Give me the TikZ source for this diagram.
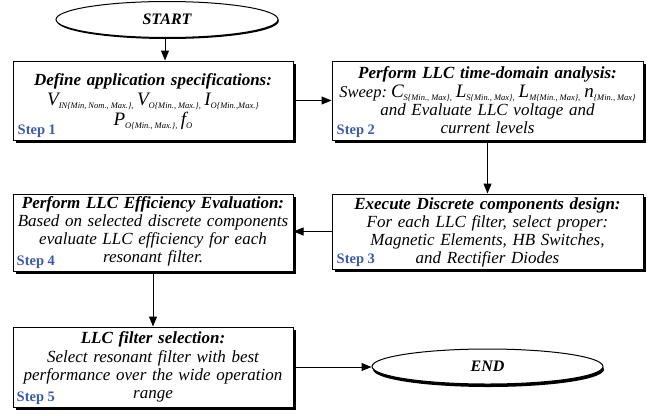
\documentclass[tikz,border=0pt]{standalone}
\usepackage{fontspec}
\setmainfont{Liberation Serif}
\usetikzlibrary{arrows.meta,shadows,shapes.geometric}
\definecolor{stepblue}{RGB}{60,90,170}
% large italic symbol and its lowered subscript
\newcommand{\bigletter}[1]{{\fontsize{19}{19}\selectfont\itshape #1}}
\newcommand{\lowsub}[1]{\raisebox{-3.5pt}{\fontsize{8.5}{8.5}\selectfont\itshape\spaceskip=2pt #1}}

\begin{document}
\frenchspacing
\begin{tikzpicture}[x=1pt,y=-1pt,
  procbox/.style={draw=black, line width=1pt, fill=white, rectangle, inner sep=0pt,
    drop shadow={opacity=1, fill=black, shadow xshift=2.5pt, shadow yshift=-2.5pt}},
  term/.style={draw=black, ellipse, line width=1pt, fill=white, inner sep=0pt,
    font=\fontsize{16}{16}\selectfont\bfseries\itshape},
  boxtext/.style={inner sep=0pt, align=center, anchor=base,
    font=\fontsize{17}{18}\selectfont\itshape},
  steplabel/.style={inner sep=0pt, anchor=base west, text=stepblue,
    font=\fontsize{14.5}{14.5}\selectfont\bfseries},
  arr/.style={line width=1pt, -{Triangle[length=10pt,width=8pt]}}
]
\useasboundingbox (0,0) rectangle (658,415);

% terminals
\node[term, minimum width=222pt, minimum height=36pt,
  drop shadow={opacity=1, fill=black, shadow xshift=0.8pt, shadow yshift=-1.5pt}]
  (start) at (167,19.5) {START};
\node[term, minimum width=231pt, minimum height=35pt,
  drop shadow={opacity=1, fill=black, shadow xshift=1pt, shadow yshift=-3pt}]
  (end) at (487.5,366.5) {END};

% process boxes
\node[procbox, minimum width=280pt, minimum height=79pt] (s1) at (153,100.5) {};
\node[procbox, minimum width=311pt, minimum height=79pt] (s2) at (487.5,100.5) {};
\node[procbox, minimum width=311pt, minimum height=75pt] (s3) at (487.5,231.5) {};
\node[procbox, minimum width=280pt, minimum height=77pt] (s4) at (153,232.5) {};
\node[procbox, minimum width=280pt, minimum height=80pt] (s5) at (153,367) {};

% box texts
\node[boxtext, text width=290pt] (t1) at (153,85) {%
  \textbf{Define application specifications:}\\[2pt]
  \bigletter{V}\lowsub{IN\{Min, Nom., Max.\},}\hspace{3.5pt}\bigletter{V}\lowsub{O\{Min., Max.\},}\hspace{3.5pt}\bigletter{I}\lowsub{O\{Min.,Max.\}}\\[1pt]
  \bigletter{P}\lowsub{O\{Min., Max.\},}\hspace{3.5pt}\bigletter{f}\lowsub{O}};
\node[boxtext, text width=340pt] (t2) at (487.5,78) {%
  \textbf{Perform LLC time-domain analysis:}\\[1pt]
  {\fontsize{16.5}{18}\selectfont Sweep:}\hspace{4pt}\bigletter{C}\lowsub{S\{Min., Max\},}\hspace{4pt}\bigletter{L}\lowsub{S\{Min., Max\},}\hspace{4pt}\bigletter{L}\lowsub{M\{Min., Max\},}\hspace{4pt}\bigletter{n}\lowsub{\{Min., Max\}}\\
  and Evaluate LLC voltage and\\
  current levels};
\node[boxtext, text width=311pt] (t3) at (487.5,209) {%
  \textbf{Execute Discrete components design:}\\
  For each LLC filter, select proper:\\
  Magnetic Elements, HB Switches,\\
  and Rectifier Diodes};
\node[boxtext, text width=290pt] (t4) at (153,208) {%
  \textbf{Perform LLC Efficiency Evaluation:}\\
  Based on selected discrete components\\
  evaluate LLC efficiency for each\\
  resonant filter.};
\node[boxtext, text width=290pt] (t5) at (153,343) {%
  \textbf{LLC filter selection:}\\[1pt]
  Select resonant filter with best\\
  performance over the wide operation\\
  range};

% step labels
\node[steplabel] (l1) at ([shift={(5,-6)}]s1.south west) {Step 1};
\node[steplabel] (l2) at ([shift={(5,-6)}]s2.south west) {Step 2};
\node[steplabel] (l3) at ([shift={(5,-6)}]s3.south west) {Step 3};
\node[steplabel] (l4) at ([shift={(4,-6)}]s4.south west) {Step 4};
\node[steplabel] (l5) at ([shift={(4,-6)}]s5.south west) {Step 5};

% connectors
\draw[arr] ([xshift=-2pt]start.south) -- ([xshift=-2pt]start.south |- s1.north);
\draw[arr] (s1.east) -- (s1.east -| s2.west);
\draw[arr] (s2.south) -- (s3.north);
\draw[arr] (s3.west) -- (s3.west -| s4.east);
\draw[arr] (s4.south) -- (s5.north);
\draw[arr] (s5.east) -- (s5.east -| end.west);
\end{tikzpicture}
\end{document}
